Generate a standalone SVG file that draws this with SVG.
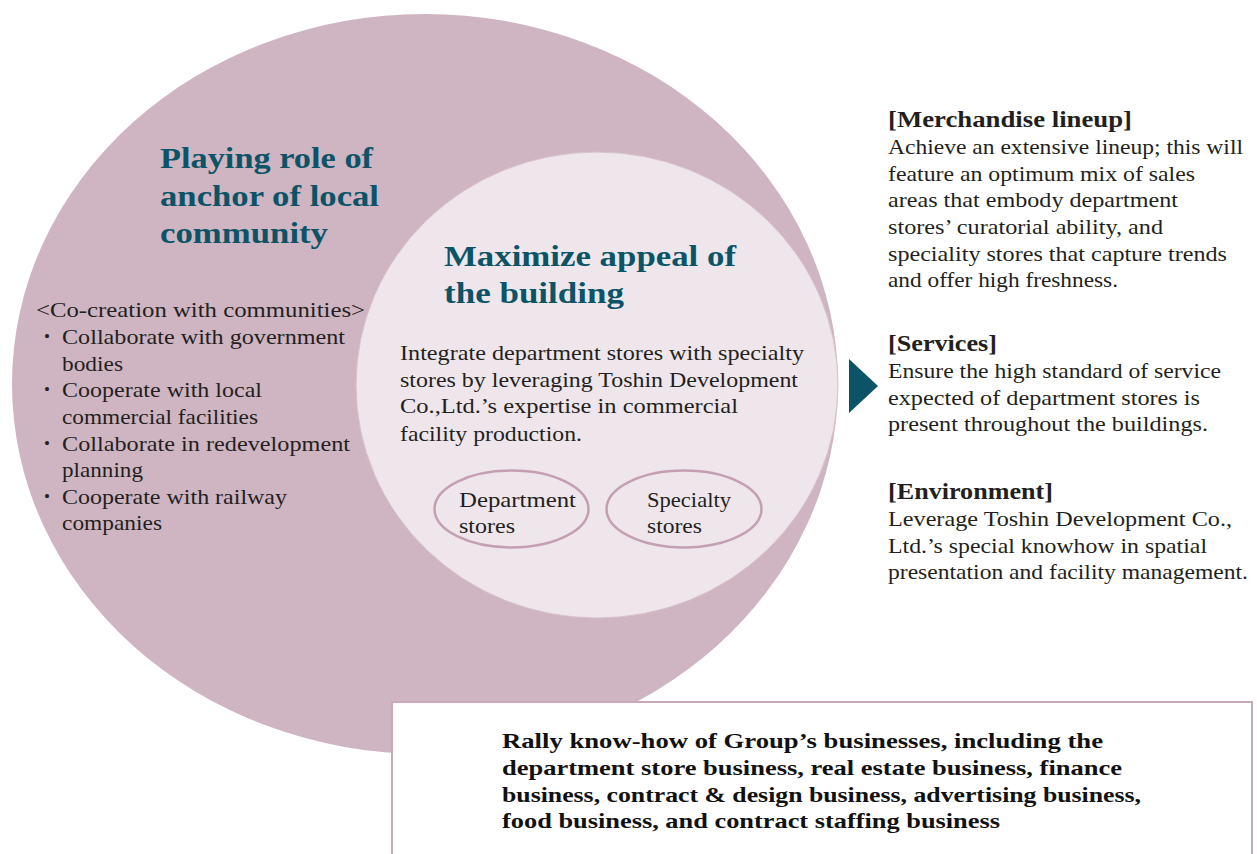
<svg xmlns="http://www.w3.org/2000/svg" width="1257" height="854" viewBox="0 0 1257 854">
<style>
text{font-family:"Liberation Serif","Times New Roman",serif}
.h{font-weight:bold;font-size:30px;fill:#0b5468}
.b{font-size:22px;fill:#231f20}
.rh{font-weight:bold;font-size:23px;fill:#231f20}
.bb{font-weight:bold;font-size:22px;fill:#111}
.bul{font-size:17px;fill:#231f20}
.sm{fill:none;stroke:#c49fb3;stroke-width:2.5}
</style>
<rect width="1257" height="854" fill="#ffffff"/>
<g id="outer-circle">
<ellipse cx="425" cy="384" rx="413" ry="370" fill="#cfb5c2"/>
<text class="h" x="160" y="168" textLength="213" lengthAdjust="spacingAndGlyphs">Playing role of</text>
<text class="h" x="160" y="206" textLength="219" lengthAdjust="spacingAndGlyphs">anchor of local</text>
<text class="h" x="160" y="243" textLength="168" lengthAdjust="spacingAndGlyphs">community</text>
<text class="b" x="36" y="317" textLength="329" lengthAdjust="spacingAndGlyphs">&lt;Co-creation with communities&gt;</text>
<text class="bul" x="44" y="342">•</text>
<text class="b" x="62" y="344" textLength="283" lengthAdjust="spacingAndGlyphs">Collaborate with government</text>
<text class="b" x="62" y="370.5" textLength="61" lengthAdjust="spacingAndGlyphs">bodies</text>
<text class="bul" x="44" y="395">•</text>
<text class="b" x="62" y="397" textLength="200" lengthAdjust="spacingAndGlyphs">Cooperate with local</text>
<text class="b" x="62" y="424" textLength="196" lengthAdjust="spacingAndGlyphs">commercial facilities</text>
<text class="bul" x="44" y="448.5">•</text>
<text class="b" x="62" y="450.5" textLength="288" lengthAdjust="spacingAndGlyphs">Collaborate in redevelopment</text>
<text class="b" x="62" y="477" textLength="81" lengthAdjust="spacingAndGlyphs">planning</text>
<text class="bul" x="44" y="502">•</text>
<text class="b" x="62" y="504" textLength="225" lengthAdjust="spacingAndGlyphs">Cooperate with railway</text>
<text class="b" x="62" y="530" textLength="100" lengthAdjust="spacingAndGlyphs">companies</text>
</g>
<g id="inner-circle">
<ellipse cx="597" cy="385" rx="241" ry="233" fill="#efe6eb" stroke="#d6c0cb" stroke-width="1"/>
<text class="h" x="444" y="265.5" textLength="292" lengthAdjust="spacingAndGlyphs">Maximize appeal of</text>
<text class="h" x="444" y="303" textLength="180" lengthAdjust="spacingAndGlyphs">the building</text>
<text class="b" x="400" y="360" textLength="404" lengthAdjust="spacingAndGlyphs">Integrate department stores with specialty</text>
<text class="b" x="400" y="386.7" textLength="398" lengthAdjust="spacingAndGlyphs">stores by leveraging Toshin Development</text>
<text class="b" x="400" y="413.3" textLength="338" lengthAdjust="spacingAndGlyphs">Co.,Ltd.’s expertise in commercial</text>
<text class="b" x="400" y="440.5" textLength="182" lengthAdjust="spacingAndGlyphs">facility production.</text>
</g>
<g id="department-stores">
<ellipse class="sm" cx="511.5" cy="509" rx="77" ry="38.5"/>
<text class="b" x="459" y="507" textLength="117" lengthAdjust="spacingAndGlyphs">Department</text>
<text class="b" x="459" y="533" textLength="56" lengthAdjust="spacingAndGlyphs">stores</text>
</g>
<g id="specialty-stores">
<ellipse class="sm" cx="684" cy="509" rx="77.5" ry="38.5"/>
<text class="b" x="647" y="507" textLength="84" lengthAdjust="spacingAndGlyphs">Specialty</text>
<text class="b" x="647" y="533" textLength="55" lengthAdjust="spacingAndGlyphs">stores</text>
</g>
<g id="connectors">
<polygon points="849,359 878,386 849,413" fill="#0b5468"/>
</g>
<g id="merchandise">
<text class="rh" x="888" y="127" textLength="244" lengthAdjust="spacingAndGlyphs">[Merchandise lineup]</text>
<text class="b" x="888" y="154" textLength="355" lengthAdjust="spacingAndGlyphs">Achieve an extensive lineup; this will</text>
<text class="b" x="888" y="180.5" textLength="307" lengthAdjust="spacingAndGlyphs">feature an optimum mix of sales</text>
<text class="b" x="888" y="207" textLength="290" lengthAdjust="spacingAndGlyphs">areas that embody department</text>
<text class="b" x="888" y="233.5" textLength="275" lengthAdjust="spacingAndGlyphs">stores’ curatorial ability, and</text>
<text class="b" x="888" y="260.5" textLength="339" lengthAdjust="spacingAndGlyphs">speciality stores that capture trends</text>
<text class="b" x="888" y="287" textLength="230" lengthAdjust="spacingAndGlyphs">and offer high freshness.</text>
</g>
<g id="services">
<text class="rh" x="888" y="351" textLength="109" lengthAdjust="spacingAndGlyphs">[Services]</text>
<text class="b" x="888" y="378" textLength="333" lengthAdjust="spacingAndGlyphs">Ensure the high standard of service</text>
<text class="b" x="888" y="404.5" textLength="312" lengthAdjust="spacingAndGlyphs">expected of department stores is</text>
<text class="b" x="888" y="431" textLength="320" lengthAdjust="spacingAndGlyphs">present throughout the buildings.</text>
</g>
<g id="environment">
<text class="rh" x="888" y="499" textLength="165" lengthAdjust="spacingAndGlyphs">[Environment]</text>
<text class="b" x="888" y="526" textLength="344" lengthAdjust="spacingAndGlyphs">Leverage Toshin Development Co.,</text>
<text class="b" x="888" y="552.5" textLength="319" lengthAdjust="spacingAndGlyphs">Ltd.’s special knowhow in spatial</text>
<text class="b" x="888" y="579" textLength="360" lengthAdjust="spacingAndGlyphs">presentation and facility management.</text>
</g>
<g id="group-knowhow">
<rect x="392" y="702" width="860" height="170" fill="#ffffff" stroke="#c8a9b9" stroke-width="2"/>
<text class="bb" x="502" y="748" textLength="601" lengthAdjust="spacingAndGlyphs">Rally know-how of Group’s businesses, including the</text>
<text class="bb" x="502" y="775" textLength="620" lengthAdjust="spacingAndGlyphs">department store business, real estate business, finance</text>
<text class="bb" x="502" y="801.5" textLength="639" lengthAdjust="spacingAndGlyphs">business, contract &amp; design business, advertising business,</text>
<text class="bb" x="502" y="828" textLength="498" lengthAdjust="spacingAndGlyphs">food business, and contract staffing business</text>
</g>
</svg>
